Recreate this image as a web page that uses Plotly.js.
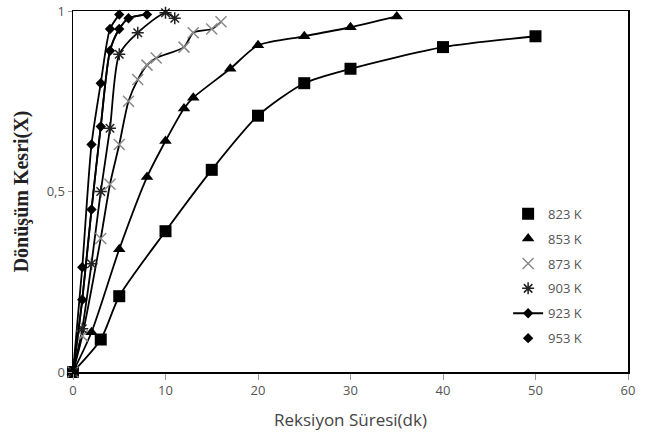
<!DOCTYPE html>
<html><head><meta charset="utf-8">
<script src="https://cdn.plot.ly/plotly-3.0.1.min.js"></script>
<style>html,body{margin:0;padding:0;background:#fff}#c{width:649px;height:436px}</style>
</head><body><div id="c"></div>
<script>
const names = ["823 K","853 K","873 K","903 K","923 K","953 K"];
const t823 = [0,3,5,10,15,20,25,30,40,50];
const x823 = [0,0.09,0.21,0.39,0.56,0.71,0.80,0.84,0.90,0.93];
const t853 = [0,2,5,8,10,12,13,17,20,25,30,35];
const x853 = [0,0.11,0.34,0.54,0.64,0.73,0.76,0.84,0.905,0.93,0.955,0.985];
const t873 = [0,1,3,4,5,6,7,8,9,12,13,15,16];
const x873 = [0,0.10,0.37,0.52,0.63,0.75,0.81,0.85,0.87,0.90,0.94,0.95,0.97];
const t903 = [0,1,2,3,4,5,7,10,11];
const x903 = [0,0.12,0.30,0.50,0.675,0.88,0.94,0.995,0.98];
const t923 = [0,1,2,3,4,5,6,8];
const x923 = [0,0.20,0.45,0.68,0.89,0.95,0.98,0.99];
const t953 = [0,1,2,3,4,5];
const x953 = [0,0.29,0.63,0.80,0.95,0.99];
const xTicks = [0,10,20,30,40,50,60];
const yTicks = [0,0.5,1];

const series = [
  {t:t823, x:x823, sym:"square", col:"#000", size:12},
  {t:t853, x:x853, sym:"triangle-up", col:"#000", size:11},
  {t:t873, x:x873, sym:"x-thin-open", col:"#8a8a8a", size:11},
  {t:t903, x:x903, sym:"asterisk-open", col:"#222", size:10},
  {t:t923, x:x923, sym:"diamond", col:"#000", size:8},
  {t:t953, x:x953, sym:"diamond", col:"#000", size:8}
];
const traces = [];
series.forEach((s,i)=>{
  traces.push({x:s.t, y:s.x, mode:"lines", type:"scatter", showlegend:false, hoverinfo:"skip",
    line:{color:"#000", width:1.8, shape:"spline", smoothing:0.7}, cliponaxis:false});
});
series.forEach((s,i)=>{
  traces.push({x:s.t, y:s.x, name:names[i], type:"scatter", legendgroup:"g"+i,
    mode: i===4 ? "lines+markers" : "markers", cliponaxis:false,
    line:{color:"#000", width:1.8, shape:"spline", smoothing:0.7},
    marker:{symbol:s.sym, color:s.col, size:s.size, line:{color:s.col, width:(s.sym.indexOf("open")>=0?1.5:0)}}});
});
const layout = {
  width:649, height:436, paper_bgcolor:"#fff", plot_bgcolor:"#fff",
  margin:{l:73, r:21, t:11, b:64},
  separators:",.",
  font:{family:"Open Sans, Liberation Sans, sans-serif", color:"#555", size:12},
  xaxis:{range:[0,60], tickvals:xTicks, ticktext:xTicks.map(String), showgrid:false, zeroline:false,
    showline:true, linecolor:"#000", linewidth:1.5, mirror:true, ticks:"outside", ticklen:6, tickcolor:"#999",
    tickfont:{size:13, color:"#555"},
    title:{text:"Reksiyon Süresi(dk)", font:{size:17, color:"#444"}, standoff:16}},
  yaxis:{range:[0,1], tickvals:yTicks, ticktext:["0","0,5","1"], showgrid:false, zeroline:false,
    showline:true, linecolor:"#000", linewidth:1.5, mirror:true, ticks:"outside", ticklen:4, tickcolor:"#999",
    tickfont:{size:13, color:"#555"},
    title:{text:"Dönüşüm Kesri(X)", font:{family:"Liberation Serif, serif", size:20, color:"#222", weight:"bold"}, standoff:12}},
  legend:{x:0.784, y:0.48, xanchor:"left", yanchor:"top", bgcolor:"rgba(0,0,0,0)", font:{size:13, color:"#555"},
    tracegroupgap:5, traceorder:"grouped", itemwidth:30},
  showlegend:true
};
Plotly.newPlot("c", traces, layout, {staticPlot:true, displayModeBar:false});
</script></body></html>
